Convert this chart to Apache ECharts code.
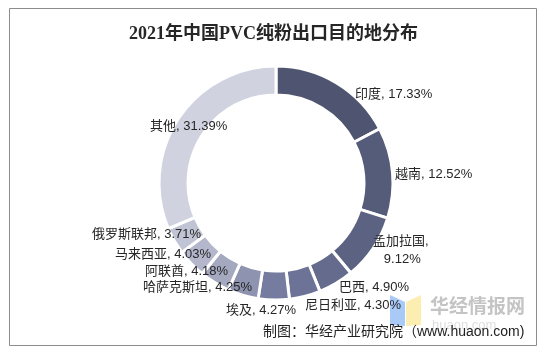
<!DOCTYPE html>
<html>
<head>
<meta charset="utf-8">
<title>2021年中国PVC纯粉出口目的地分布</title>
<script src="https://cdn.jsdelivr.net/npm/echarts@6/dist/echarts.min.js"></script>
<style>
  html, body { margin: 0; padding: 0; background: #fff; }
  #chart { width: 547px; height: 352px; }
</style>
</head>
<body>
<div id="chart"></div>
<script>
const titleText = '2021年中国PVC纯粉出口目的地分布'
const sourceText = '制图：华经产业研究院（www.huaon.com)'
const countries = ['印度', '越南', '孟加拉国', '巴西', '尼日利亚', '埃及', '哈萨克斯坦', '阿联酋', '马来西亚', '俄罗斯联邦', '其他']
const shares = [17.33, 12.52, 9.12, 4.90, 4.30, 4.27, 4.25, 4.18, 4.03, 3.71, 31.39]
const colors = ['#4f5570', '#555c7a', '#5b6282', '#646b8c', '#6c7396', '#757c9f', '#8e93af', '#a5a9c0', '#b4b7cb', '#c1c4d4', '#d0d3df']
// label anchor (left edge, vertical middle) for each slice
const labelLeft = [355, 395, 373, 339, 305, 226, 143, 145, 115, 92, 150]
const labelMid = [94, 174, 250, 287, 305, 310, 287, 271, 254, 234, 126]

const sansFont = '"Liberation Sans", "Noto Sans CJK SC", sans-serif'

const myChart = echarts.init(document.getElementById('chart'))
const option = {
  animation: false,
  backgroundColor: '#fff',
  title: {
    text: titleText,
    left: 124,
    top: 20,
    textStyle: {
      fontFamily: '"Liberation Serif", "Noto Sans CJK SC", serif',
      fontSize: 18,
      fontWeight: 'bold',
      color: '#262626'
    }
  },
  graphic: [
    { type: 'rect', z: 0, shape: { x: 9.5, y: 8.5, width: 527, height: 337 }, style: { fill: 'none', stroke: '#8c8c8c', lineWidth: 1 } },
    { type: 'polygon', z: 0, shape: { points: [[390, 295], [405, 302], [405, 326], [390, 325]] }, style: { fill: '#a9c9f7' } },
    { type: 'polygon', z: 0, shape: { points: [[406, 302], [421, 295], [421, 325], [406, 326]] }, style: { fill: '#fbeeb0' } },
    { type: 'text', z: 0, left: 430, top: 296, style: { text: '华经情报网', fill: '#c4c4c4', font: 'bold 19px "Noto Sans CJK SC"' } },
    { type: 'text', z: 0, left: 432, top: 319, style: { text: 'huaon.com', fill: '#dedede', font: '13px "Liberation Sans"', letterSpacing: 2 } },
    { type: 'text', z: 5, left: 263, top: 325, style: { text: sourceText, fill: '#222', font: '14px "Liberation Sans", "Noto Sans CJK SC"' } }
  ],
  series: [
    {
      type: 'pie',
      center: [276, 183],
      radius: [88, 117],
      startAngle: 90,
      clockwise: true,
      data: countries.map((name, i) => ({
        name,
        value: shares[i],
        itemStyle: { color: colors[i] }
      })),
      itemStyle: { borderColor: '#fff', borderWidth: 3 },
      label: {
        position: 'outside',
        fontFamily: sansFont,
        fontSize: 13,
        color: '#262626',
        lineHeight: 18,
        formatter: p => {
          const text = p.name + ', ' + p.value.toFixed(2) + '%'
          return p.name === '孟加拉国' ? p.name + ',\n   ' + p.value.toFixed(2) + '%' : text
        }
      },
      labelLine: { show: false },
      labelLayout: p => ({
        x: labelLeft[p.dataIndex],
        y: labelMid[p.dataIndex],
        align: 'left',
        verticalAlign: 'middle',
        hideOverlap: false
      })
    }
  ]
}
myChart.setOption(option)
</script>
</body>
</html>
